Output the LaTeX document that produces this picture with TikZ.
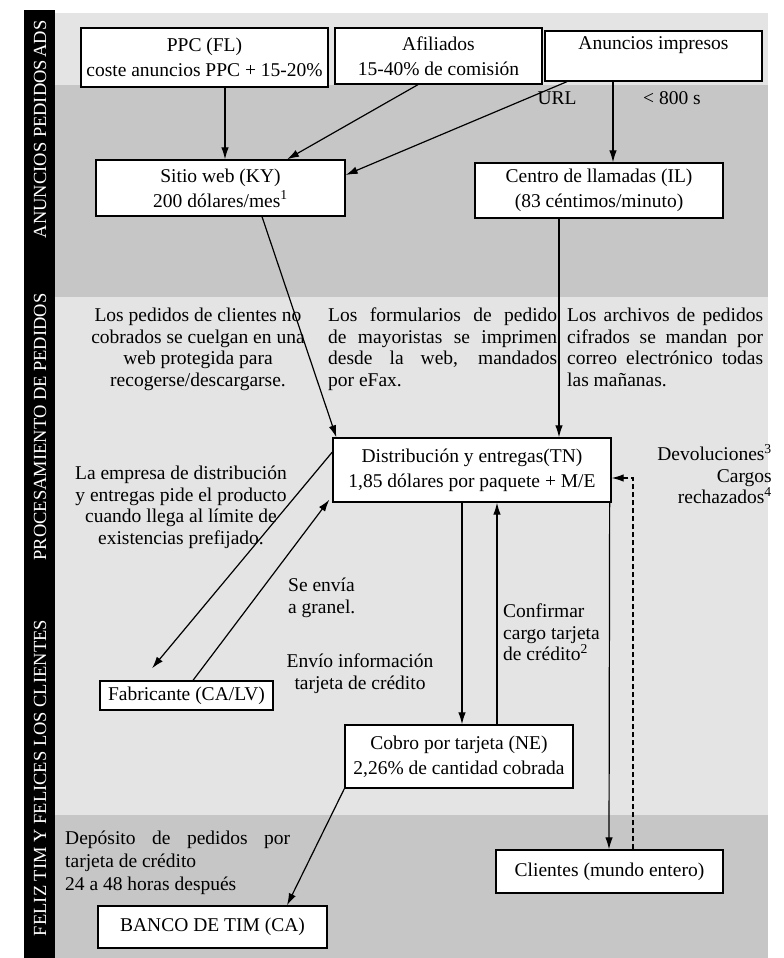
\documentclass[tikz,border=0pt]{standalone}
\usepackage{fontspec}
\setmainfont{Liberation Serif}
\usetikzlibrary{arrows.meta,calc}
\definecolor{shL}{HTML}{E4E4E4}
\definecolor{shD}{HTML}{C6C6C6}
\newcommand\justline[2]{\makebox[#1pt][s]{#2}}
\begin{document}
\begin{tikzpicture}[x=1pt,y=-1pt,
  box/.style={draw,line width=1.3pt,fill=white,inner sep=0pt,align=center,font=\fontsize{19.5}{25}\selectfont},
  lbl/.style={inner sep=0pt,font=\fontsize{19.5}{21.5}\selectfont},
  arr/.style={line width=1.2pt,-{Latex[length=12pt,width=7.5pt]}},
  band/.style={text=white,rotate=90,font=\fontsize{18.5}{18.5}\selectfont,inner sep=0pt}]
\useasboundingbox (0,0) rectangle (784,958);
\fill[white] (0,0) rectangle (784,958);
\fill[shL] (55,13) rectangle (768,85);
\fill[shD] (55,85) rectangle (768,297);
\fill[shL] (55,297) rectangle (768,815);
\fill[shD] (55,815) rectangle (768,958);
\fill[black] (24,10) rectangle (55,958);
% band labels
\node[band] (bads) at (40,39) {ADS};
\node[band] (banu) at (40,149) {ANUNCIOS PEDIDOS};
\node[band] (bpro) at (40,427) {PROCESAMIENTO DE PEDIDOS};
\node[band] (bfel) at (40,778) {FELIZ TIM Y FELICES LOS CLIENTES};
% boxes
\node[box,minimum width=247pt,minimum height=59pt] (ppc) at (204.5,57.5) {PPC (FL)\\coste anuncios PPC + 15-20\%};
\node[box,minimum width=207pt,minimum height=56pt] (afi) at (438.5,56) {Afiliados\\15-40\% de comisión};
\node[box,minimum width=217pt,minimum height=50pt] (anu) at (653.5,56) {Anuncios impresos\\\mbox{}};
\node[box,minimum width=249pt,minimum height=56pt] (web) at (220.5,188) {Sitio web (KY)\\200 dólares/mes\textsuperscript{1}};
\node[box,minimum width=248pt,minimum height=55pt] (cen) at (599,190.5) {Centro de llamadas (IL)\\(83 céntimos/minuto)};
\node[box,minimum width=278pt,minimum height=64pt] (dis) at (472,470) {Distribución y entregas(TN)\\1,85 dólares por paquete + M/E};
\node[box,minimum width=173pt,minimum height=29pt] (fab) at (186.5,695.5) {Fabricante (CA/LV)};
\node[box,minimum width=228pt,minimum height=63pt] (cob) at (459,756.5) {Cobro por tarjeta (NE)\\2,26\% de cantidad cobrada};
\node[box,minimum width=227pt,minimum height=43pt] (cli) at (609.5,871.5) {Clientes (mundo entero)};
\node[box,minimum width=229pt,minimum height=42pt] (ban) at (212.5,927) {BANCO DE TIM (CA)};
% connectors
\draw[arr] ([xshift=20.5pt]ppc.south) -- ([xshift=4.5pt]web.north);
\draw[arr] ([xshift=-20.5pt]afi.south) -- ([xshift=66.5pt]web.north);
\draw[arr] ([xshift=-86.5pt]anu.south) -- ([yshift=13pt]web.east);
\draw[arr] ([xshift=-40.5pt]anu.south) -- ([xshift=14pt]cen.north);
\draw[arr] ([xshift=41.5pt]web.south) -- ([xshift=4pt]dis.north west);
\draw[arr] ([xshift=-40pt]cen.south) -- ([xshift=87pt]dis.north);
\draw[arr] ([yshift=18pt]dis.west) -- ([xshift=-34.5pt,yshift=12pt]fab.north);
\draw[arr] ([xshift=6.5pt]fab.north) -- ([xshift=-3pt,yshift=3pt]dis.south west);
\draw[arr] ([xshift=-10pt]dis.south) -- ([xshift=3pt]cob.north);
\draw[arr] ([xshift=38pt]cob.north) -- ([xshift=25pt]dis.south);
\draw[arr] ([xshift=-2pt]dis.south east) -- ([xshift=-0.5pt]cli.north);
\draw[arr,dash pattern=on 5pt off 3pt] ([xshift=23.5pt]cli.north) |- ([yshift=-8pt]dis.east);
\draw[arr] (cob.south west) -- ([xshift=74.5pt]ban.north);
% labels
\node[lbl,anchor=base] (url) at (557,104) {URL};
\node[lbl,anchor=base] (t800) at (672,104) {\textless{} 800 s};
\node[lbl,anchor=north,align=center] (t1) at (198,308) {Los pedidos de clientes no\\cobrados se cuelgan en una\\web protegida para\\recogerse/descargarse.};
\node[lbl,anchor=north west,align=left] (t2) at (328,308) {\justline{229}{Los formularios de pedido}\\\justline{229}{de mayoristas se imprimen}\\\justline{229}{desde la web, mandados}\\por eFax.};
\node[lbl,anchor=north west,align=left] (t3) at (567,308) {\justline{196}{Los archivos de pedidos}\\\justline{196}{cifrados se mandan por}\\\justline{196}{correo electrónico todas}\\las mañanas.};
\node[lbl,anchor=north,align=center] (t4) at (181,466) {La empresa de distribución\\y entregas pide el producto\\cuando llega al límite de\\existencias prefijado.};
\node[lbl,anchor=north west,align=left] (t5) at (288,578) {Se envía\\a granel.};
\node[lbl,anchor=north,align=center] (t6) at (360,654) {Envío información\\tarjeta de crédito};
\node[lbl,anchor=north west,align=left] (t7) at (503,604) {Confirmar\\cargo tarjeta\\de crédito\textsuperscript{2}};
\node[lbl,anchor=north east,align=right] (t8) at (772,444) {Devoluciones\textsuperscript{3}\\Cargos\\rechazados\textsuperscript{4}};
\node[lbl,anchor=north west,align=left,font=\fontsize{19.5}{23}\selectfont] (t9) at (65,831) {\justline{225}{Depósito de pedidos por}\\tarjeta de crédito\\24 a 48 horas después};
\end{tikzpicture}
\end{document}
